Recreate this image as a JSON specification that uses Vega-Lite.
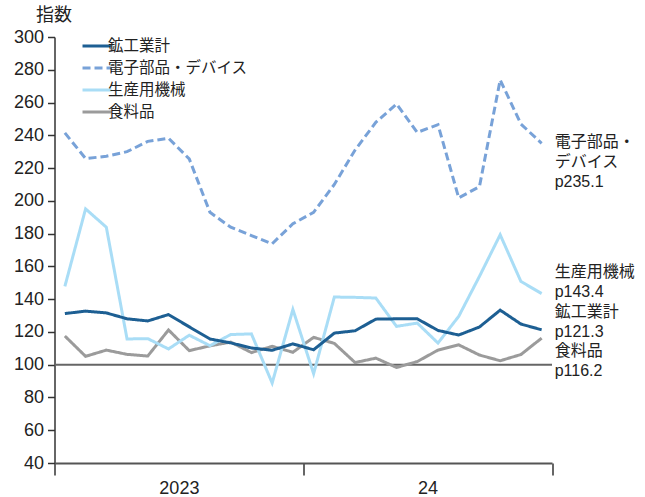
{
  "$schema": "https://vega.github.io/schema/vega-lite/v6.json",
  "width": 497.5,
  "height": 426,
  "autosize": "none",
  "padding": {"left": 54.5, "top": 37, "right": 93, "bottom": 34},
  "background": "white",
  "config": {
    "view": {"stroke": null},
    "font": "Liberation Sans, Noto Sans CJK JP",
    "axisY": {
      "grid": false, "labelOverlap": false, "labelBound": false, "labelFlush": false,
      "domainColor": "#333", "domainWidth": 1.5,
      "tickColor": "#333", "tickWidth": 1.5,
      "labelFontSize": 18, "labelColor": "#222", "labelPadding": 4,
      "labelFont": "Liberation Sans",
      "titleAngle": 0, "titleAlign": "center", "titleBaseline": "middle",
      "titleX": -1, "titleY": -22, "titleFontSize": 18, "titleFontWeight": "normal",
      "titleColor": "#222", "titleFont": "Noto Sans CJK JP"
    }
  },
  "datasets": {
    "series": [
      {"month": "2023-01", "鉱工業計": 131.2, "電子部品・デバイス": 241.5, "生産用機械": 147.8, "食料品": 117.5},
      {"month": "2023-02", "鉱工業計": 132.7, "電子部品・デバイス": 225.8, "生産用機械": 195.1, "食料品": 105.1},
      {"month": "2023-03", "鉱工業計": 131.6, "電子部品・デバイス": 227.2, "生産用機械": 183.9, "食料品": 108.9},
      {"month": "2023-04", "鉱工業計": 128.0, "電子部品・デバイス": 230.0, "生産用機械": 115.7, "食料品": 106.3},
      {"month": "2023-05", "鉱工業計": 126.7, "電子部品・デバイス": 236.3, "生産用機械": 115.9, "食料品": 105.3},
      {"month": "2023-06", "鉱工業計": 130.6, "電子部品・デバイス": 238.2, "生産用機械": 109.6, "食料品": 121.2},
      {"month": "2023-07", "鉱工業計": 123.1, "電子部品・デバイス": 225.6, "生産用機械": 118.0, "食料品": 108.6},
      {"month": "2023-08", "鉱工業計": 115.7, "電子部品・デバイス": 193.0, "生産用機械": 111.6, "食料品": 111.5},
      {"month": "2023-09", "鉱工業計": 113.3, "電子部品・デバイス": 183.9, "生産用機械": 118.4, "食料品": 113.8},
      {"month": "2023-10", "鉱工業計": 110.2, "電子部品・デバイス": 178.8, "生産用機械": 118.8, "食料品": 107.4},
      {"month": "2023-11", "鉱工業計": 108.8, "電子部品・デバイス": 173.8, "生産用機械": 88.8, "食料品": 111.2},
      {"month": "2023-12", "鉱工業計": 112.7, "電子部品・デバイス": 186.0, "生産用機械": 133.7, "食料品": 107.6},
      {"month": "2024-01", "鉱工業計": 109.1, "電子部品・デバイス": 193.0, "生産用機械": 94.5, "食料品": 116.7},
      {"month": "2024-02", "鉱工業計": 119.3, "電子部品・デバイス": 210.0, "生産用機械": 141.3, "食料品": 113.0},
      {"month": "2024-03", "鉱工業計": 120.7, "電子部品・デバイス": 231.0, "生産用機械": 141.1, "食料品": 101.3},
      {"month": "2024-04", "鉱工業計": 127.8, "電子部品・デバイス": 247.9, "生産用機械": 140.7, "食料品": 104.0},
      {"month": "2024-05", "鉱工業計": 128.0, "電子部品・デバイス": 259.1, "生産用機械": 123.4, "食料品": 98.3},
      {"month": "2024-06", "鉱工業計": 128.0, "電子部品・デバイス": 241.8, "生産用機械": 125.4, "食料品": 101.9},
      {"month": "2024-07", "鉱工業計": 120.9, "電子部品・デバイス": 246.5, "生産用機械": 113.2, "食料品": 108.9},
      {"month": "2024-08", "鉱工業計": 118.1, "電子部品・デバイス": 201.8, "生産用機械": 129.5, "食料品": 112.1},
      {"month": "2024-09", "鉱工業計": 123.0, "電子部品・デバイス": 208.7, "生産用機械": 153.9, "食料品": 105.9},
      {"month": "2024-10", "鉱工業計": 133.3, "電子部品・デバイス": 273.8, "生産用機械": 179.3, "食料品": 102.4},
      {"month": "2024-11", "鉱工業計": 124.8, "電子部品・デバイス": 246.9, "生産用機械": 150.8, "食料品": 106.2},
      {"month": "2024-12", "鉱工業計": 121.3, "電子部品・デバイス": 235.1, "生産用機械": 143.4, "食料品": 116.2}
    ],
    "labels": [
      {"series": "電子部品・デバイス", "month": "2024-12", "value": 235.1, "label": "電子部品・\nデバイス\np235.1"},
      {"series": "生産用機械", "month": "2024-12", "value": 143.4, "label": "生産用機械\np143.4"},
      {"series": "鉱工業計", "month": "2024-12", "value": 121.3, "label": "鉱工業計\np121.3"},
      {"series": "食料品", "month": "2024-12", "value": 116.2, "label": "食料品\np116.2"}
    ],
    "years": [{"year": "2023"}, {"year": "24"}],
    "ref": [{"level": 100}]
  },
  "resolve": {"scale": {"x": "independent"}, "axis": {"y": "independent"}},
  "layer": [
    {
      "data": {"name": "years"},
      "mark": {"type": "rect", "opacity": 0},
      "encoding": {
        "x": {
          "field": "year", "type": "nominal", "sort": null,
          "scale": {"type": "band", "paddingInner": 0, "paddingOuter": 0},
          "axis": {
            "title": null, "orient": "bottom", "tickBand": "extent",
            "domainColor": "#555", "domainWidth": 2,
            "tickColor": "#333", "tickWidth": 1.5, "tickSize": 12,
            "labelFontSize": 18, "labelColor": "#222", "labelPadding": 4,
            "labelAngle": 0, "labelFont": "Liberation Sans"
          }
        }
      }
    },
    {
      "data": {"name": "ref"},
      "mark": {"type": "rule", "color": "#666", "strokeWidth": 2},
      "encoding": {
        "y": {
          "field": "level", "type": "quantitative",
          "scale": {"domain": [40, 300], "nice": false, "zero": false},
          "axis": {"title": "指数", "orient": "left", "ticks": true, "tickSize": 7, "values": [40, 60, 80, 100, 120, 140, 160, 180, 200, 220, 240, 260, 280, 300]}
        }
      }
    },
    {
      "layer": [
        {
          "data": {"name": "series"},
          "transform": [{"fold": ["食料品", "生産用機械", "電子部品・デバイス", "鉱工業計"], "as": ["series", "value"]}],
          "mark": {"type": "line", "strokeWidth": 3, "strokeJoin": "miter"},
          "encoding": {
            "x": {"field": "month", "type": "ordinal", "scale": {"type": "point", "padding": 0.5}, "axis": null},
            "y": {
              "field": "value", "type": "quantitative",
              "scale": {"domain": [40, 300], "nice": false, "zero": false},
              "axis": null
            },
            "color": {
              "field": "series", "type": "nominal",
              "scale": {
                "domain": ["鉱工業計", "電子部品・デバイス", "生産用機械", "食料品"],
                "range": ["#1d5f93", "#78a2d8", "#a9ddf6", "#9b9b9b"]
              },
              "legend": {
                "title": null, "orient": "none", "legendX": 33.5, "legendY": 0, "padding": 0,
                "symbolType": "M-2,0H2", "symbolSize": 210, "symbolStrokeWidth": 3,
                "labelFontSize": 15.5, "labelFont": "Noto Sans CJK JP", "labelColor": "#222",
                "labelOffset": 2, "rowPadding": 4
              }
            },
            "strokeDash": {
              "field": "series", "type": "nominal",
              "scale": {
                "domain": ["鉱工業計", "電子部品・デバイス", "生産用機械", "食料品"],
                "range": [[1, 0], [8, 4], [1, 0], [1, 0]]
              },
              "legend": {
                "title": null, "orient": "none", "legendX": 33.5, "legendY": 0, "padding": 0,
                "symbolType": "M-2,0H2", "symbolSize": 210, "symbolStrokeWidth": 3,
                "labelFontSize": 15.5, "labelFont": "Noto Sans CJK JP", "labelColor": "#222",
                "labelOffset": 2, "rowPadding": 4
              }
            }
          }
        },
        {
          "data": {"name": "labels"},
          "transform": [{"filter": {"field": "series", "equal": "電子部品・デバイス"}}],
          "mark": {"type": "text", "align": "left", "baseline": "top", "dx": 13, "dy": -9, "fontSize": 16, "lineHeight": 20, "lineBreak": "\n", "color": "#222"},
          "encoding": {
            "x": {"field": "month", "type": "ordinal"},
            "y": {"field": "value", "type": "quantitative"},
            "text": {"field": "label"}
          }
        },
        {
          "data": {"name": "labels"},
          "transform": [{"filter": {"field": "series", "equal": "生産用機械"}}],
          "mark": {"type": "text", "align": "left", "baseline": "top", "dx": 13, "dy": -30, "fontSize": 16, "lineHeight": 20, "lineBreak": "\n", "color": "#222"},
          "encoding": {
            "x": {"field": "month", "type": "ordinal"},
            "y": {"field": "value", "type": "quantitative"},
            "text": {"field": "label"}
          }
        },
        {
          "data": {"name": "labels"},
          "transform": [{"filter": {"field": "series", "equal": "鉱工業計"}}],
          "mark": {"type": "text", "align": "left", "baseline": "top", "dx": 13, "dy": -26, "fontSize": 16, "lineHeight": 20, "lineBreak": "\n", "color": "#222"},
          "encoding": {
            "x": {"field": "month", "type": "ordinal"},
            "y": {"field": "value", "type": "quantitative"},
            "text": {"field": "label"}
          }
        },
        {
          "data": {"name": "labels"},
          "transform": [{"filter": {"field": "series", "equal": "食料品"}}],
          "mark": {"type": "text", "align": "left", "baseline": "top", "dx": 13, "dy": 5, "fontSize": 16, "lineHeight": 20, "lineBreak": "\n", "color": "#222"},
          "encoding": {
            "x": {"field": "month", "type": "ordinal"},
            "y": {"field": "value", "type": "quantitative"},
            "text": {"field": "label"}
          }
        }
      ]
    }
  ]
}
